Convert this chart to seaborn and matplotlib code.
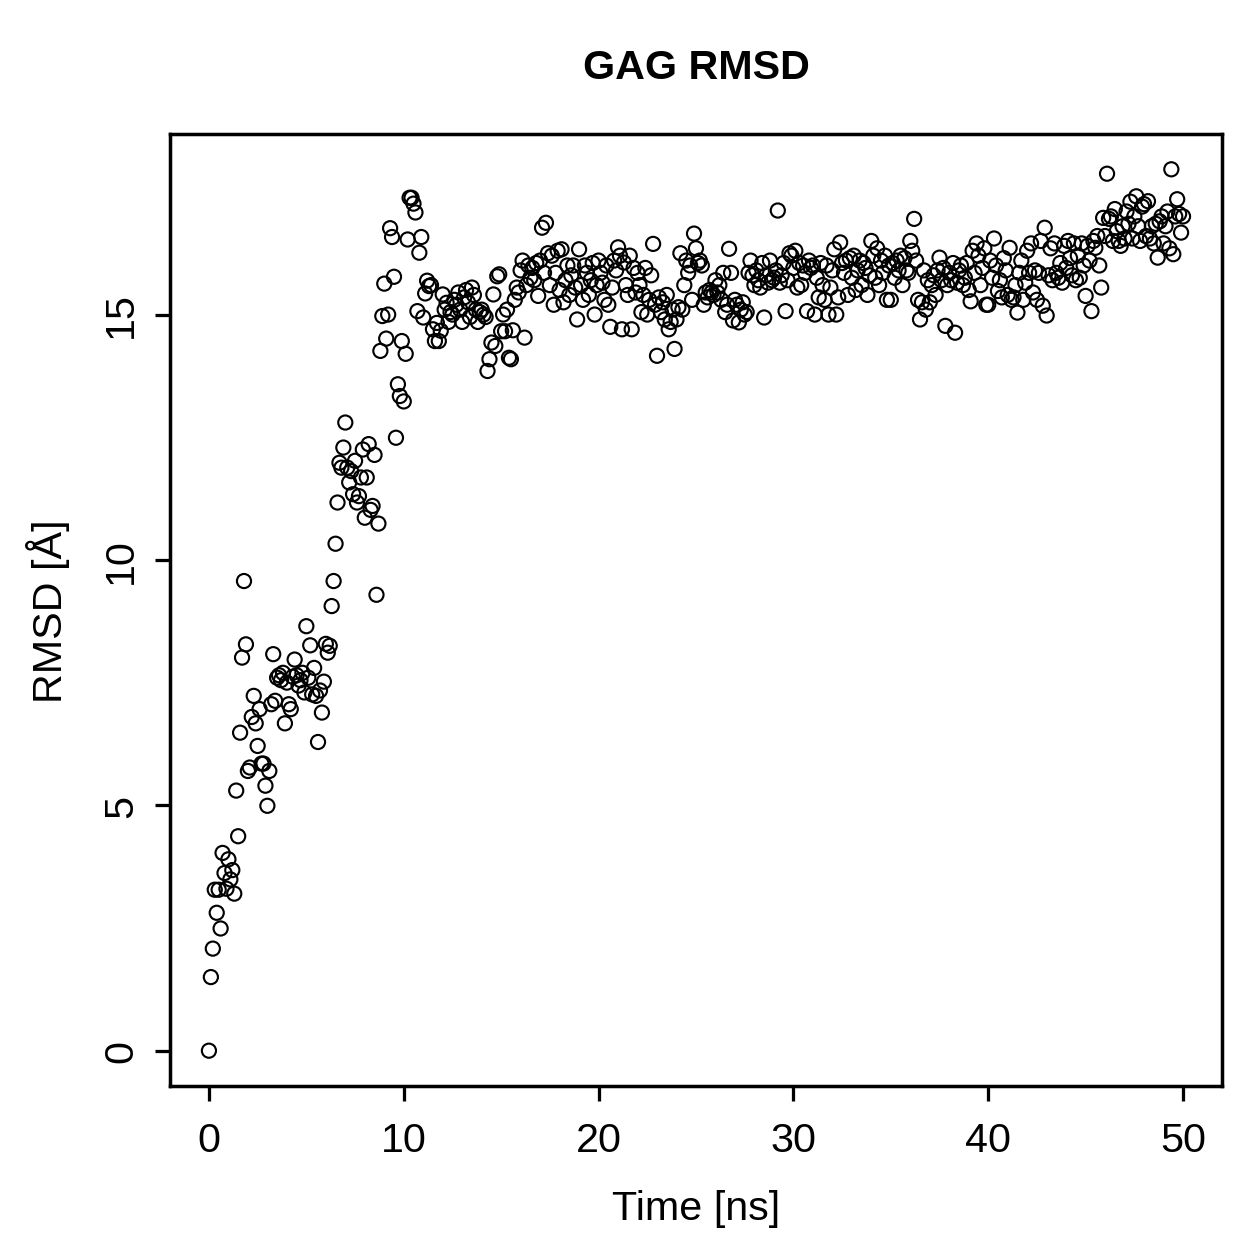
import numpy as np
import pandas as pd
import seaborn as sns
import matplotlib
import matplotlib.pyplot as plt

matplotlib.use("Agg")

# time axis: one frame every 0.1 ns, 0 .. 50 ns
time_ns = np.round(np.arange(0, 501) * 0.1, 1)

# RMSD values (Angstrom), one row per ns
rmsd = [
    0.0, 1.5, 2.08, 3.28, 2.81, 3.28, 2.49, 4.03, 3.62, 3.3,
    3.9, 3.49, 3.68, 3.2, 5.3, 4.37, 6.48, 8.01, 9.57, 8.28,
    5.7, 5.77, 6.8, 7.23, 6.67, 6.21, 6.96, 5.85, 5.85, 5.4,
    4.99, 5.7, 7.06, 8.08, 7.13, 7.6, 7.65, 7.55, 7.7, 6.67,
    7.5, 7.06, 6.96, 7.62, 7.97, 7.65, 7.44, 7.55, 7.7, 7.3,
    8.65, 7.6, 8.26, 7.26, 7.8, 7.23, 6.29, 7.34, 6.89, 7.52,
    8.29, 8.11, 8.25, 9.06, 9.57, 10.33, 11.17, 11.98, 11.88, 12.29,
    12.8, 11.88, 11.58, 11.81, 11.34, 12.02, 11.17, 11.3, 11.68, 12.25,
    10.86, 11.68, 12.36, 11.02, 11.1, 12.14, 9.29, 10.74, 14.26, 14.97,
    15.63, 14.51, 15.0, 16.76, 16.58, 15.77, 12.49, 13.58, 13.34, 14.46,
    13.23, 14.2, 16.53, 17.38, 17.38, 17.26, 17.08, 15.07, 16.26, 16.58,
    14.94, 15.43, 15.69, 15.58, 15.6, 14.7, 14.46, 14.83, 14.46, 14.67,
    15.41, 15.1, 15.24, 14.85, 15.05, 15.0, 15.3, 15.2, 15.45, 15.1,
    14.85, 15.35, 15.5, 15.25, 14.95, 15.55, 15.4, 15.1, 14.85, 15.05,
    15.1, 15.0, 14.95, 13.85, 14.09, 14.43, 15.41, 14.36, 15.78, 15.82,
    14.66, 15.0, 14.66, 15.1, 14.12, 14.09, 14.68, 15.3, 15.55, 15.45,
    15.9, 16.1, 14.53, 15.6, 16.0, 15.75, 15.95, 15.7, 16.05, 15.38,
    16.1, 16.77, 15.85, 16.87, 16.25, 15.6, 16.2, 15.2, 15.85, 16.3,
    15.5, 16.33, 15.25, 15.7, 16.0, 15.4, 15.8, 16.0, 15.55, 14.9,
    16.33, 15.6, 15.3, 16.0, 15.85, 15.4, 15.7, 16.05, 15.0, 15.6,
    16.1, 15.85, 15.65, 15.3, 16.0, 15.2, 14.75, 15.55, 16.1, 15.9,
    16.37, 16.2, 14.7, 16.06, 15.6, 15.4, 16.2, 14.7, 15.95, 15.45,
    15.85, 15.6, 15.05, 15.4, 15.95, 15.0, 15.3, 15.8, 16.44, 15.2,
    14.16, 15.35, 15.05, 15.25, 14.9, 15.4, 14.7, 14.85, 15.1, 14.3,
    14.9, 15.15, 16.25, 15.1, 15.6, 16.1, 15.85, 16.0, 15.3, 16.65,
    16.35, 16.05, 16.1, 16.0, 15.2, 15.45, 15.35, 15.5, 15.45, 15.4,
    15.7, 15.45, 15.6, 15.3, 15.85, 15.05, 15.2, 16.34, 15.85, 14.88,
    15.3, 15.2, 14.84, 15.1, 15.25, 15.0, 15.05, 15.85, 16.1, 15.8,
    15.6, 15.9, 15.7, 15.55, 16.05, 14.94, 15.8, 15.65, 16.1, 15.7,
    15.75, 15.9, 17.12, 15.65, 15.8, 16.05, 15.07, 15.7, 16.25, 16.2,
    15.95, 16.3, 15.55, 16.05, 15.6, 16.0, 15.85, 15.07, 16.1, 15.95,
    16.0, 15.0, 15.75, 15.35, 16.05, 15.6, 15.3, 16.0, 15.0, 15.55,
    15.9, 16.33, 15.0, 15.35, 16.47, 16.05, 15.85, 16.1, 15.4, 16.15,
    15.75, 16.2, 15.5, 15.9, 16.1, 15.6, 16.05, 15.95, 15.4, 15.8,
    16.5, 16.2, 15.75, 16.35, 15.6, 16.1, 15.85, 16.2, 15.3, 16.0,
    15.3, 16.05, 15.75, 16.1, 15.9, 16.2, 15.6, 16.15, 15.9, 15.85,
    16.5, 16.3, 16.95, 16.1, 15.3, 14.9, 15.25, 15.9, 15.1, 15.7,
    15.25, 15.6, 15.8, 15.4, 15.9, 16.16, 15.7, 15.95, 14.77, 15.6,
    15.85, 15.7, 16.05, 14.63, 15.65, 15.9, 16.0, 15.6, 15.75, 16.05,
    15.5, 15.27, 16.3, 15.85, 16.45, 16.2, 15.6, 15.95, 16.35, 15.2,
    15.2, 16.1, 15.75, 16.55, 16.0, 15.48, 15.7, 15.35, 16.15, 15.9,
    15.4, 16.36, 15.3, 15.35, 15.6, 15.04, 15.85, 16.1, 15.3, 15.65,
    16.3, 15.85, 16.45, 15.45, 15.9, 15.3, 15.85, 16.5, 15.18, 16.77,
    14.98, 15.8, 16.35, 15.7, 16.45, 15.85, 15.75, 16.05, 15.65, 16.4,
    15.95, 16.5, 16.15, 15.8, 16.45, 15.7, 16.2, 15.75, 16.45, 16.0,
    15.38, 16.4, 16.1, 15.07, 16.5, 16.36, 16.6, 16.0, 15.55, 16.97,
    16.6, 17.87, 16.95, 17.0, 16.5, 17.15, 16.7, 16.5, 16.4, 16.8,
    16.55, 17.1, 16.85, 17.3, 16.55, 17.0, 17.41, 16.8, 16.5, 17.2,
    17.25, 16.6, 17.31, 16.55, 16.8, 16.45, 16.85, 16.16, 16.9, 17.0,
    16.45, 16.8, 17.1, 16.35, 17.96, 16.23, 17.0, 17.35, 17.05, 16.67,
    17.0,
]

x_ticks = [0, 10, 20, 30, 40, 50]
y_ticks = [0, 5, 10, 15]

df = pd.DataFrame({"Time [ns]": time_ns, "RMSD": rmsd})

sns.set_style("ticks")
plt.rcParams["font.family"] = ["Liberation Sans", "DejaVu Sans"]
plt.rcParams["text.color"] = "black"
plt.rcParams["axes.labelcolor"] = "black"
plt.rcParams["xtick.color"] = "black"
plt.rcParams["ytick.color"] = "black"

FS = 16.5

fig = plt.figure(figsize=(7, 7), dpi=179.857)
ax = fig.add_axes([0.135, 0.1366, 0.8356, 0.7562])

sns.scatterplot(
    ax=ax,
    data=df,
    x="Time [ns]",
    y="RMSD",
    marker="o",
    s=32,
    facecolor="none",
    edgecolor="black",
    linewidth=0.85,
)

ax.set_xlim(-2, 52)
ax.set_ylim(-0.72, 18.68)
ax.set_xticks(x_ticks)
ax.set_yticks(y_ticks)
ax.tick_params(axis="both", direction="out", length=6, width=1.3,
               labelsize=FS, color="black", labelcolor="black")
ax.tick_params(axis="x", pad=8)
ax.tick_params(axis="y", pad=6)
for lab in ax.get_yticklabels():
    lab.set_rotation(90)
    lab.set_va("center")

for sp in ax.spines.values():
    sp.set_linewidth(1.4)
    sp.set_color("black")

ax.set_xlabel("Time [ns]", fontsize=FS, labelpad=12, color="black")
ax.set_ylabel("RMSD [Å]", fontsize=FS, labelpad=13, color="black")
fig.text(0.553, 0.946, "GAG RMSD", ha="center", va="center",
         fontsize=FS, weight="bold", color="black")

fig.savefig("out.png", dpi=179.857)
